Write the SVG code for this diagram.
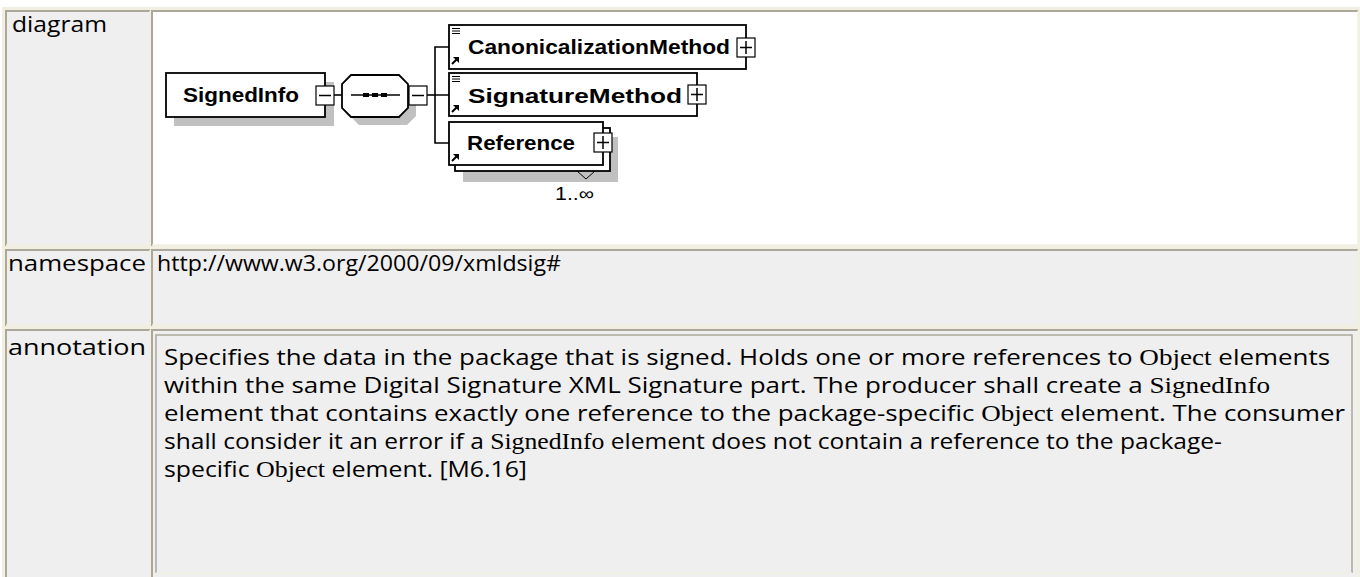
<svg xmlns="http://www.w3.org/2000/svg" width="1360" height="577" viewBox="0 0 1360 577">
<style>
.lbl{font-family:"Open Sans","Lato",sans-serif;font-size:22px;fill:#000}
.ann{font-family:"Open Sans","Lato",sans-serif;font-size:22px;fill:#000}
.ser{font-family:"Liberation Serif","DejaVu Serif",serif;font-size:23px}
.nm{font-family:"Liberation Sans",Arial,sans-serif;font-size:20px;font-weight:bold;fill:#000}
.box{fill:#fff;stroke:#000;stroke-width:1.8}
.shadow{fill:#c0c0c0}
.tog{fill:#fff;stroke:#000;stroke-width:1.2}
.tl{stroke:#000;stroke-width:1.5;fill:none}
.conn{stroke:#000;stroke-width:1.6;fill:none}
.cellL{fill:#efefef}
.dk{stroke:#aca899;stroke-width:2;fill:none}
.lt{stroke:#f1efe2;stroke-width:1.5;fill:none}
</style>
<rect x="0" y="0" width="1360" height="577" fill="#ffffff"/>
<rect x="2" y="7" width="1358" height="570" fill="#f1efe2"/>
<g id="table">
  <rect class="cellL" x="6" y="11" width="144" height="234"/>
  <rect fill="#ffffff" x="152" y="11" width="1206" height="234"/>
  <rect class="cellL" x="6" y="250" width="144" height="75"/>
  <rect class="cellL" x="152" y="250" width="1206" height="75"/>
  <rect class="cellL" x="6" y="330" width="144" height="247"/>
  <rect class="cellL" x="152" y="330" width="1206" height="247"/>
  <path class="dk" d="M6,246V11H150 M152,246V11H1358 M6,326V250H150 M152,326V250H1358 M6,577V330H150 M152,577V330H1358"/>
  <path class="lt" d="M150,11V245H6 M1358,11V245H152 M150,250V325H6 M1358,250V325H152 M150,330V577 M1358,330V577"/>
  <path fill="none" stroke="#aca899" stroke-width="1.5" d="M156,573V335H1352V573"/>
  <path fill="none" stroke="#f1efe2" stroke-width="1.5" d="M156,573H1352"/>
</g>
<g id="labels">
  <text class="lbl" x="12" y="32" textLength="95" lengthAdjust="spacingAndGlyphs">diagram</text>
  <text class="lbl" x="8" y="271" textLength="138" lengthAdjust="spacingAndGlyphs">namespace</text>
  <text class="lbl" x="8" y="355" textLength="138" lengthAdjust="spacingAndGlyphs">annotation</text>
  <text class="lbl" x="157" y="271" textLength="404" lengthAdjust="spacingAndGlyphs">http://www.w3.org/2000/09/xmldsig#</text>
</g>
<g id="annotation">
  <text class="ann" x="164" y="365" textLength="1166" lengthAdjust="spacingAndGlyphs">Specifies the data in the package that is signed. Holds one or more references to <tspan class="ser">Object</tspan> elements</text>
  <text class="ann" x="164" y="393" textLength="1106" lengthAdjust="spacingAndGlyphs">within the same Digital Signature XML Signature part. The producer shall create a <tspan class="ser">SignedInfo</tspan></text>
  <text class="ann" x="164" y="421" textLength="1181" lengthAdjust="spacingAndGlyphs">element that contains exactly one reference to the package-specific <tspan class="ser">Object</tspan> element. The consumer</text>
  <text class="ann" x="164" y="449" textLength="1058" lengthAdjust="spacingAndGlyphs">shall consider it an error if a <tspan class="ser">SignedInfo</tspan> element does not contain a reference to the package-</text>
  <text class="ann" x="164" y="477" textLength="363" lengthAdjust="spacingAndGlyphs">specific <tspan class="ser">Object</tspan> element. [M6.16]</text>
</g>
<g id="connectors">
  <line class="conn" x1="334" y1="95" x2="342" y2="95"/>
  <line class="conn" x1="427" y1="95" x2="435" y2="95"/>
  <path class="conn" d="M449,47H435V143H449 M435,95H449"/>
</g>
<g id="SignedInfo">
  <rect class="shadow" x="174" y="82" width="160" height="44"/>
  <rect class="box" x="166" y="73" width="159" height="44"/>
  <text class="nm" x="183" y="102" textLength="116" lengthAdjust="spacingAndGlyphs">SignedInfo</text>
  <rect class="tog" x="316" y="86" width="18" height="19"/>
  <line class="tl" x1="319" y1="95.5" x2="331" y2="95.5"/>
</g>
<g id="sequence">
  <polygon class="shadow" points="359,83 407,83 416,92 416,116 407,125 359,125 350,116 350,92"/>
  <polygon class="box" points="351,75 399,75 408,84 408,108 399,117 351,117 342,108 342,84"/>
  <line class="tl" x1="351" y1="95" x2="400" y2="95"/>
  <rect x="363" y="93" width="6" height="4" fill="#000"/>
  <rect x="372" y="93" width="6" height="4" fill="#000"/>
  <rect x="381" y="93" width="6" height="4" fill="#000"/>
  <rect class="tog" x="409" y="86" width="18" height="19"/>
  <line class="tl" x1="412" y1="95.5" x2="424" y2="95.5"/>
</g>
<defs>
  <g id="eq"><path d="M0,0.5H8M0,3H8M0,5.5H8" stroke="#000" stroke-width="1"/></g>
  <g id="ref"><path d="M1,7L6,2" stroke="#000" stroke-width="2"/><polygon points="2,0 8,0 8,6" fill="#000"/></g>
</defs>
<g id="CanonicalizationMethod">
  <rect class="box" x="449" y="25" width="297" height="44"/>
  <use href="#eq" x="452" y="28"/>
  <use href="#ref" x="451" y="57"/>
  <text class="nm" x="468" y="54" textLength="262" lengthAdjust="spacingAndGlyphs">CanonicalizationMethod</text>
  <rect class="tog" x="737" y="38" width="18" height="19"/>
  <path class="tl" d="M740,47.5H752M746,41V54"/>
</g>
<g id="SignatureMethod">
  <rect class="box" x="449" y="73" width="248" height="43"/>
  <use href="#eq" x="452" y="76"/>
  <use href="#ref" x="451" y="105"/>
  <text class="nm" x="468" y="103" textLength="214" lengthAdjust="spacingAndGlyphs">SignatureMethod</text>
  <rect class="tog" x="688" y="85" width="18" height="19"/>
  <path class="tl" d="M691,94.5H703M697,88V101"/>
</g>
<g id="Reference">
  <rect class="shadow" x="463" y="137" width="155" height="45"/>
  <rect class="box" x="455" y="128" width="155" height="43"/>
  <rect class="box" x="449" y="122" width="154" height="43"/>
  <use href="#ref" x="451" y="154"/>
  <text class="nm" x="467" y="150" textLength="108" lengthAdjust="spacingAndGlyphs">Reference</text>
  <rect class="tog" x="594" y="133" width="18" height="19"/>
  <path class="tl" d="M597,142.5H609M603,136V149"/>
  <polyline points="577,171 586,179 595,171" fill="none" stroke="#000" stroke-width="1"/>
  <text x="555" y="200" font-family="Liberation Sans, Arial, sans-serif" font-size="18" fill="#000" textLength="39" lengthAdjust="spacingAndGlyphs">1..∞</text>
</g>
</svg>
